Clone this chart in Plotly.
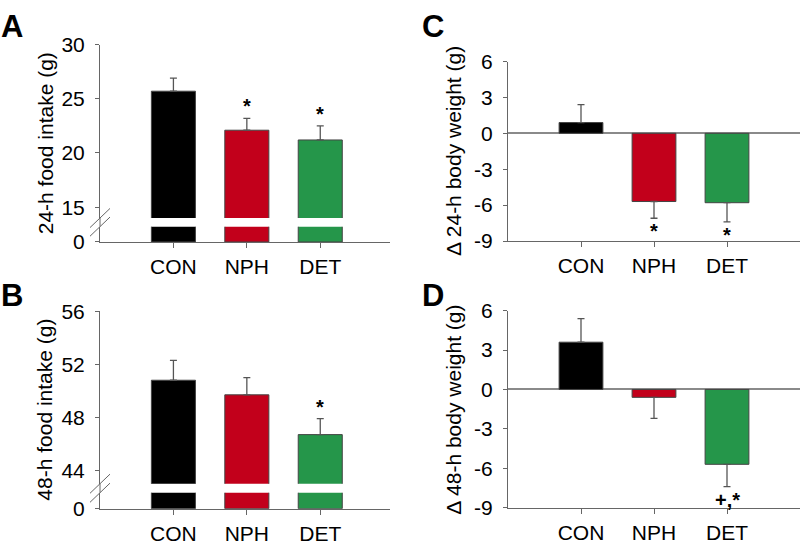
import plotly.graph_objects as go

# ---------------- data ----------------
groups = ["CON", "NPH", "DET"]
colors = ["#000000", "#C2001B", "#25964A"]

food24_mean = [25.7, 22.1, 21.2]
food24_sem = [1.2, 1.1, 1.3]
food24_sig = ["", "*", "*"]

food48_mean = [50.8, 49.7, 46.7]
food48_sem = [1.5, 1.3, 1.2]
food48_sig = ["", "", "*"]

bw24_mean = [0.9, -5.7, -5.8]
bw24_sem = [1.5, 1.4, 1.6]
bw24_sig = ["", "*", "*"]

bw48_mean = [3.6, -0.6, -5.7]
bw48_sem = [1.8, 1.6, 1.7]
bw48_sig = ["", "", "+,*"]

food24_ticks = [15, 20, 25, 30]
food48_ticks = [44, 48, 52, 56]
bw_ticks = [-9, -6, -3, 0, 3, 6]

# ---------------- geometry helpers ----------------
W, H = 802, 550
def px(x):
    return x / W
def py(y):
    return 1 - y / H

FONT = "Liberation Sans, Arial, sans-serif"
AX = "#666666"
ERR = "#555555"

fig = go.Figure()

def bar(y, sem, xa, ya, with_err=True):
    ep = [s if v >= 0 else 0 for v, s in zip(y, sem)]
    em = [s if v < 0 else 0 for v, s in zip(y, sem)]
    fig.add_trace(go.Bar(
        x=groups, y=y, xaxis=xa, yaxis=ya, width=0.6,
        marker=dict(color=colors, line=dict(color="#444444", width=1)),
        error_y=dict(type="data", symmetric=False, array=ep, arrayminus=em,
                     color=ERR, thickness=1.3, width=3.5, visible=with_err),
        showlegend=False, hoverinfo="skip"))

# Panel A (upper y, lower y2, x)
bar(food24_mean, food24_sem, "x", "y")
bar(food24_mean, food24_sem, "x", "y2", with_err=False)
# Panel B (upper y3, lower y4, x2)
bar(food48_mean, food48_sem, "x2", "y3")
bar(food48_mean, food48_sem, "x2", "y4", with_err=False)
# Panel C
bar(bw24_mean, bw24_sem, "x3", "y5")
# Panel D
bar(bw48_mean, bw48_sem, "x4", "y6")

tickfont = dict(family=FONT, size=21, color="#000000")

def xax(dom, rng, anchor):
    return dict(domain=[px(dom[0]), px(dom[1])], range=rng, anchor=anchor,
                type="category", showline=True, linecolor=AX, linewidth=1,
                ticks="outside", ticklen=5, tickcolor=AX, tickwidth=1,
                tickfont=tickfont, showgrid=False, zeroline=False,
                ticklabelstandoff=1, fixedrange=True)

def yax(dom, rng, anchor, tickvals, zeroline=False):
    return dict(domain=[py(dom[1]), py(dom[0])], range=rng, anchor=anchor,
                showline=True, linecolor=AX, linewidth=1,
                ticks="outside", ticklen=4, tickcolor=AX, tickwidth=1,
                tickvals=tickvals, ticktext=[str(v) for v in tickvals],
                tickfont=tickfont, showgrid=False,
                zeroline=zeroline, zerolinecolor="#8a8a8a", zerolinewidth=1.5,
                ticklabelstandoff=6, fixedrange=True)

fig.update_layout(
    width=W, height=H, margin=dict(l=0, r=0, t=0, b=0),
    paper_bgcolor="white", plot_bgcolor="white", bargap=0.4,
    xaxis=xax((100, 390), [-1, 2.95], "y2"),
    yaxis=yax((34, 215), [14, 30], "x", food24_ticks),
    yaxis2=yax((224, 240), [0, 1.5], "x", [0]),
    xaxis2=xax((100, 390), [-1, 2.95], "y4"),
    yaxis3=yax((312.3, 492.3), [43, 56], "x2", food48_ticks),
    yaxis4=yax((501.7, 518.3), [0, 1.5], "x2", [0]),
    xaxis3=xax((508, 800), [-1, 3], "y5"),
    yaxis5=yax((51.7, 239), [-9, 6], "x3", bw_ticks, zeroline=True),
    xaxis4=xax((508, 800), [-1, 3], "y6"),
    yaxis6=yax((311.7, 517.3), [-9, 6], "x4", bw_ticks, zeroline=True),
)

# axis break: connecting line + slashes
shapes = []
for top, bot in [(215, 224), (492.3, 501.7)]:
    shapes.append(dict(type="line", xref="paper", yref="paper",
                       x0=px(100), x1=px(100), y0=py(top), y1=py(bot),
                       line=dict(color=AX, width=1)))
    for yc in (top, bot):
        shapes.append(dict(type="line", xref="paper", yref="paper",
                           x0=px(90), x1=px(110), y0=py(yc + 10), y1=py(yc - 10),
                           line=dict(color=AX, width=1)))
fig.update_layout(shapes=shapes)

ann = []
def sig(means, sems, marks, xa, ya):
    for g, m, s, t in zip(groups, means, sems, marks):
        if not t:
            continue
        up = m >= 0
        ann.append(dict(x=g, y=m + s if up else m - s, xref=xa, yref=ya,
                        text="<b>" + t + "</b>", showarrow=False,
                        yanchor="bottom" if up else "top",
                        yshift=-1 if up else 0,
                        font=dict(family=FONT, size=20, color="#000000"),
                        ))
sig(food24_mean, food24_sem, food24_sig, "x", "y")
sig(food48_mean, food48_sem, food48_sig, "x2", "y3")
sig(bw24_mean, bw24_sem, bw24_sig, "x3", "y5")
sig(bw48_mean, bw48_sem, bw48_sig, "x4", "y6")

titles = [
    ("24-h food intake (g)", 45, 137),
    ("48-h food intake (g)", 45, 415),
    ("\u0394 24-h body weight (g)", 454, 145),
    ("\u0394 48-h body weight (g)", 454, 415),
]
for t, x, y in titles:
    ann.append(dict(text=t, x=px(x), y=py(y), xref="paper", yref="paper",
                    showarrow=False, textangle=-90, xanchor="center", yanchor="middle",
                    font=dict(family=FONT, size=21, color="#000000")))

letters = [("A", 12, 15), ("B", 12, 296), ("C", 433, 15), ("D", 433, 296)]
for t, x, y in letters:
    ann.append(dict(text="<b>" + t + "</b>", x=px(x), y=py(y), xref="paper", yref="paper",
                    showarrow=False, xanchor="center", yanchor="middle",
                    font=dict(family=FONT, size=31, color="#000000")))
fig.update_layout(annotations=ann)

fig.write_html("out.html", config={"displayModeBar": False},
               post_script="document.body.style.margin='0';")
